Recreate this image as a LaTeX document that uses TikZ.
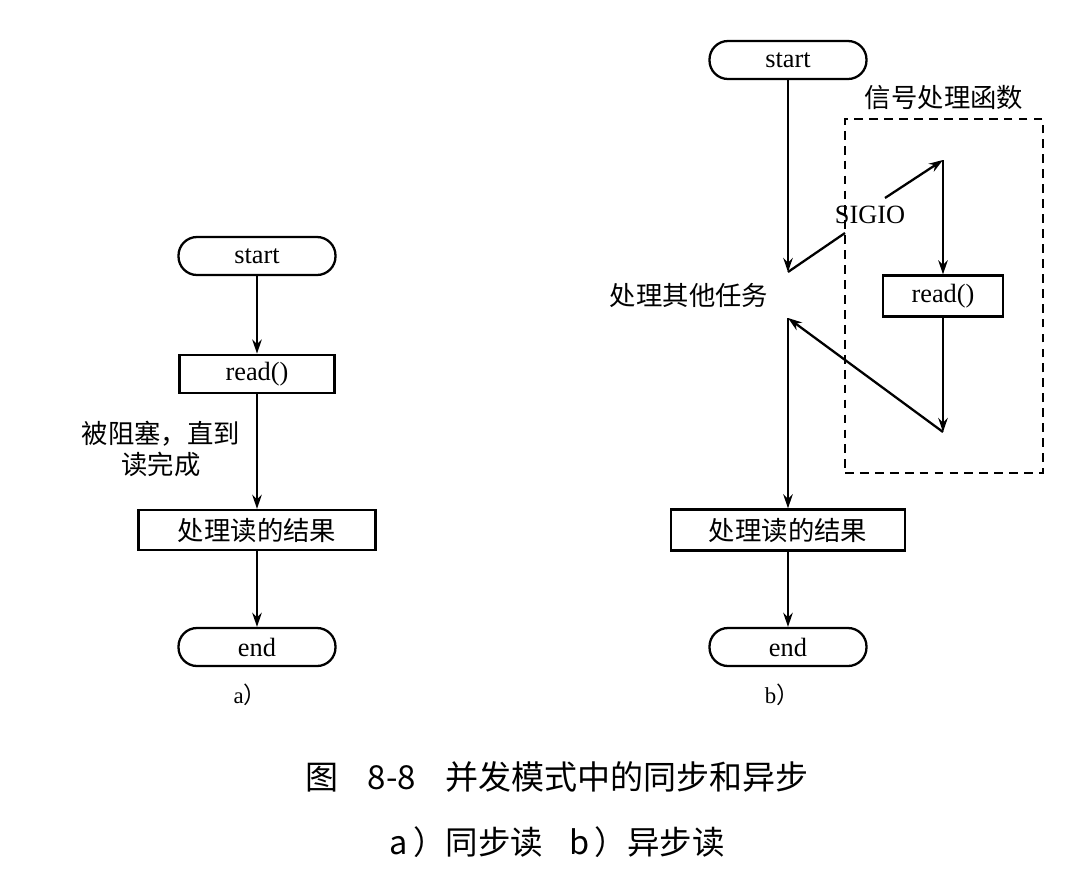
\documentclass[tikz,border=0pt]{standalone}
\usepackage{fontspec}
\setmainfont{Liberation Serif}
\newfontfamily\cjk{Noto Sans CJK SC}
\usetikzlibrary{arrows.meta, positioning}
\tikzset{
  flow arrow/.style={
    -{Stealth[length=8pt, width=5.4pt]},
    line width=1.3pt
  },
  flow line/.style={
    line width=1.3pt
  },
  terminal box/.style={
    draw,
    line width=1.3pt,
    rounded corners=0.37cm,
    minimum width=3.14cm,
    minimum height=0.76cm,
    font=\fontsize{15}{18}\selectfont
  },
  process box/.style={
    draw,
    line width=1.3pt,
    minimum width=3.1cm,
    minimum height=0.77cm,
    inner sep=0pt,
    font=\fontsize{15}{18}\selectfont
  },
  handler box/.style={
    draw,
    dash pattern=on 5pt off 3.5pt,
    line width=1.1pt,
    minimum width=3.96cm,
    minimum height=7.08cm
  },
  label text/.style={
    font=\fontsize{15}{18}\selectfont,
    inner sep=1pt
  },
  sub caption/.style={
    font=\fontsize{13}{15}\selectfont
  },
  fig caption/.style={
    font=\cjk\fontsize{18.8}{23}\selectfont
  }
}

\begin{document}
\begin{tikzpicture}[x=0.02cm, y=-0.02cm]
  \useasboundingbox (0,0) rectangle (1090,873);

  % a) 同步读
  \node[terminal box] (startA) at (257,256) {start};
  \node[process box] (readA) at (257,374) {read()};
  \node[process box, minimum width=4.74cm, minimum height=0.8cm] (resultA) at (257,530) {\cjk 处理读的结果};
  \node[terminal box] (endA) at (257,647) {end};
  \node[label text, align=center] (blockA) at (161,449) {\cjk 被阻塞，直到\\\cjk 读完成};
  \node[sub caption] (capA) at (250,695) {a\cjk）};

  \draw[flow arrow] (startA) -- (readA);
  \draw[flow arrow] (readA) -- (resultA);
  \draw[flow arrow] (resultA) -- (endA);

  % b) 异步读
  \node[terminal box] (startB) at (788,60) {start};
  \node[handler box] (handler) at (944,296) {};
  \node[label text] (handlerName) at (944,98) {\cjk 信号处理函数};
  \node[label text] (other) at (689,295) {\cjk 处理其他任务};
  \node[label text] (sigio) at (870,215) {SIGIO};
  \node[process box, minimum width=2.4cm, minimum height=0.82cm] (readB) at (943,296) {read()};
  \node[process box, minimum width=4.68cm, minimum height=0.82cm] (resultB) at (788,530) {\cjk 处理读的结果};
  \node[terminal box] (endB) at (788,647) {end};
  \node[sub caption] (capB) at (782,695) {b\cjk）};

  % 折线的拐点
  \coordinate (sigA) at (788,272);
  \coordinate (sigB) at (845,233);
  \coordinate (sigC) at (885,198);
  \coordinate (sigD) at (943,160);
  \coordinate (retA) at (943,432);
  \coordinate (retB) at (788,318);

  \draw[flow arrow] (startB) -- (sigA);
  \draw[flow line] (sigA) -- (sigB);
  \draw[flow arrow] (sigC) -- (sigD);
  \draw[flow arrow] (sigD) -- (readB);
  \draw[flow arrow] (readB) -- (retA);
  \draw[flow arrow] (retA) -- (retB);
  \draw[flow arrow] (retB) -- (resultB);
  \draw[flow arrow] (resultB) -- (endB);

  % 图题
  \node[fig caption] (title) at (557,777) {图\hspace{0.9em}8-8\hspace{0.9em}并发模式中的同步和异步};
  \node[fig caption, font=\cjk\fontsize{18.5}{22}\selectfont] (subtitle) at (557,842) {a\,）同步读\hspace{0.8em}b\,）异步读};
\end{tikzpicture}
\end{document}
